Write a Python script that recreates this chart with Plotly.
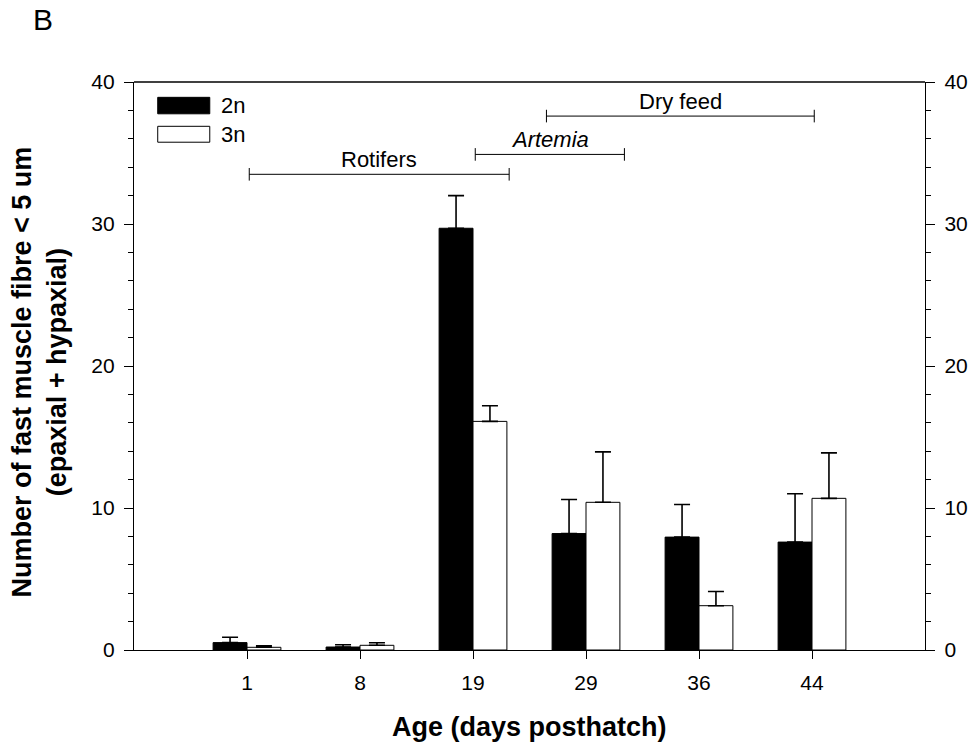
import plotly.graph_objects as go

# ---- data ----
ages = ["1", "8", "19", "29", "36", "44"]
diploid_2n = [0.52, 0.21, 29.7, 8.2, 7.95, 7.6]
diploid_2n_err = [0.38, 0.16, 2.3, 2.4, 2.3, 3.4]
triploid_3n = [0.19, 0.33, 16.1, 10.4, 3.12, 10.68]
triploid_3n_err = [0.11, 0.18, 1.1, 3.55, 1.0, 3.2]

# feeding periods (start / end in category-index units, level in y units)
period_names = ["Rotifers", "<i>Artemia</i>", "Dry feed"]
period_start = [0.02, 2.02, 2.65]
period_end = [2.32, 3.34, 5.02]
period_level = [33.5, 34.9, 37.6]

FONT = "Arial, Liberation Sans, sans-serif"
xpos = list(range(len(ages)))

fig = go.Figure()

fig.add_trace(go.Bar(
    x=xpos, y=diploid_2n, name="2n",
    marker=dict(color="black", line=dict(color="black", width=1)),
    error_y=dict(type="data", symmetric=False, array=diploid_2n_err,
                 arrayminus=[0] * len(ages), color="black", thickness=1.6, width=8),
    showlegend=False,
))
fig.add_trace(go.Bar(
    x=xpos, y=triploid_3n, name="3n",
    marker=dict(color="white", line=dict(color="black", width=1)),
    error_y=dict(type="data", symmetric=False, array=triploid_3n_err,
                 arrayminus=[0] * len(ages), color="black", thickness=1.6, width=8),
    showlegend=False,
))

for name, s, e, lv in zip(period_names, period_start, period_end, period_level):
    fig.add_trace(go.Scatter(
        x=[s, e], y=[lv, lv], mode="lines+markers",
        line=dict(color="black", width=1),
        marker=dict(symbol="line-ns-open", size=9, line=dict(color="black", width=1)),
        showlegend=False, hoverinfo="skip",
    ))
    fig.add_annotation(
        x=(s + e) / 2, y=lv, text=name, showarrow=False,
        yanchor="bottom", yshift=0, font=dict(family=FONT, size=22, color="black"),
    )

# invisible trace to anchor right axis
fig.add_trace(go.Scatter(x=[0], y=[0], yaxis="y2", mode="markers",
                         marker=dict(opacity=0), showlegend=False, hoverinfo="skip"))

# custom legend
legend_items = [("2n", "black", 0.973, 0.944), ("3n", "white", 0.922, 0.894)]
for label, col, y1, y0 in legend_items:
    fig.add_shape(type="rect", xref="paper", yref="paper",
                  x0=0.030, x1=0.0958, y0=y0, y1=y1,
                  fillcolor=col, line=dict(color="black", width=1))
    fig.add_annotation(xref="paper", yref="paper", x=0.108, y=(y0 + y1) / 2,
                       text=label, showarrow=False, xanchor="left", yanchor="middle",
                       font=dict(family=FONT, size=22, color="black"))

fig.add_annotation(xref="paper", yref="paper", x=-0.13, y=1.11, text="B",
                   showarrow=False, xanchor="left", yanchor="middle",
                   font=dict(family=FONT, size=30, color="black"))

# axis titles
fig.add_annotation(xref="paper", yref="paper", x=0.5, y=-0.135,
                   text="<b>Age (days posthatch)</b>", showarrow=False,
                   xanchor="center", yanchor="middle",
                   font=dict(family=FONT, size=27, color="black"))
fig.add_annotation(xref="paper", yref="paper", x=-0.119, y=0.49,
                   text="<b>Number of fast muscle fibre < 5 um<br>(epaxial + hypaxial)</b>",
                   showarrow=False, textangle=-90, xanchor="center", yanchor="middle",
                   font=dict(family=FONT, size=27, color="black"))

axis_common = dict(
    range=[0, 40], tickvals=[0, 10, 20, 30, 40], ticks="outside", ticklen=9,
    tickwidth=1.2, tickcolor="black", showline=True, linecolor="black", linewidth=1.4,
    showgrid=False, zeroline=False, ticklabelstandoff=5,
    minor=dict(dtick=2, ticks="outside", ticklen=5, tickwidth=1.2, tickcolor="black"),
    tickfont=dict(family=FONT, size=21, color="black"),
)

fig.update_layout(
    width=973, height=747,
    margin=dict(l=134, r=48, t=82, b=97, autoexpand=False),
    paper_bgcolor="white", plot_bgcolor="white",
    barmode="group", bargap=0.4, bargroupgap=0,
    font=dict(family=FONT, color="black"),
    xaxis=dict(
        range=[-1, 6], tickvals=xpos, ticktext=ages, ticks="outside", ticklen=8,
        tickwidth=1.2, tickcolor="black", showline=True, linecolor="black", linewidth=1.4,
        mirror=False, showgrid=False, zeroline=False, ticklabelstandoff=6,
        tickfont=dict(family=FONT, size=21, color="black"),
    ),
    yaxis=dict(**axis_common, side="left"),
    yaxis2=dict(**axis_common, side="right", overlaying="y"),
)
# top border line
fig.add_shape(type="line", xref="paper", yref="paper", x0=0, x1=1, y0=1, y1=1,
              line=dict(color="black", width=1.4))

fig.write_html("out.html", post_script="document.body.style.margin='0';",
               config={"displayModeBar": False})
